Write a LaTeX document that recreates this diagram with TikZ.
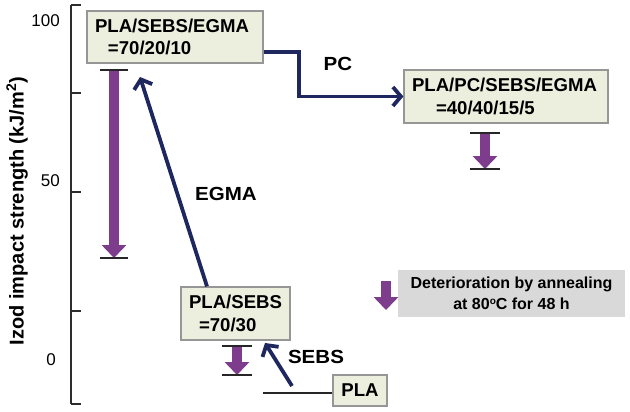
\documentclass[tikz,border=0pt]{standalone}
\usepackage{fontspec}
\setmainfont{Liberation Sans}
\newfontfamily\widesans{Liberation Sans}[FakeStretch=1.08]
\usetikzlibrary{arrows.meta,calc}
\definecolor{navyc}{RGB}{30,40,95}
\definecolor{purp}{RGB}{125,60,140}
\definecolor{boxfill}{RGB}{236,239,222}
\definecolor{boxline}{RGB}{150,150,150}
\definecolor{legfill}{RGB}{217,217,217}
\definecolor{axisc}{RGB}{45,45,45}
\tikzset{
  mixbox/.style={draw=boxline, fill=boxfill, line width=1.2pt, inner xsep=8pt, inner ysep=0pt,
    align=left, font=\fontsize{18.6}{22.5}\selectfont\bfseries},
  lbl/.style={inner sep=0pt, font=\widesans\fontsize{19}{22}\selectfont\bfseries},
  ticklbl/.style={inner sep=0pt, anchor=east, font=\fontsize{17}{20}\selectfont},
  navyarrow/.style={draw=navyc, line width=3.8pt, -{Straight Barb[length=8pt,width=19pt]}},
  deter/.style={draw=purp, line width=10pt, -{Triangle[width=24pt,length=13pt]}},
  barline/.style={draw=black!85, line width=1.3pt},
  axisline/.style={draw=axisc, line width=1.5pt},
}
\begin{document}
\begin{tikzpicture}[x=1pt,y=-1pt]
\useasboundingbox (0,0) rectangle (630,412);

% axis
\coordinate (atop) at (71,5);
\coordinate (abot) at (71,404);
\draw[axisline] (atop) -- (abot);
\foreach \yy in {5,93,192,311,404} {
  \draw[axisline] (71,\yy) -- (81,\yy);
}
\node[ticklbl] (t100) at (60,21) {100};
\node[ticklbl] (t50) at (60,181) {50};
\node[ticklbl] (t0) at (56,360) {0};
\node[rotate=90, inner sep=0pt, font=\fontsize{20}{23}\selectfont\bfseries] (ylab) at (17,211)
  {Izod impact strength (kJ/m\textsuperscript{2})};

% boxes
\node[mixbox, text width=160pt, minimum height=52pt] (box1) at (175,37)
  {PLA/SEBS/EGMA\\\hspace*{13pt}=70/20/10};
\node[mixbox, text width=188pt, minimum height=53pt] (box2) at (506,96.5)
  {PLA/PC/SEBS/EGMA\\\hspace*{24pt}=40/40/15/5};
\node[mixbox, text width=93pt, minimum height=53pt] (box3) at (235.5,313.5)
  {PLA/SEBS\\\hspace*{10pt}=70/30};
\node[mixbox, inner xsep=0pt, minimum width=54pt, minimum height=31pt, align=center] (pla) at (360,390.5) {PLA};

% legend
\node[fill=legfill, inner sep=0pt, minimum width=227pt, minimum height=47pt, align=center,
  font=\fontsize{16}{21}\selectfont\bfseries] (legend) at (511.5,293.5)
  {Deterioration by annealing\\at 80{\fontsize{10}{10}\selectfont\raisebox{5pt}{o}}C for 48 h};

% navy connectors
\draw[navyarrow] ([yshift=-15pt]box1.east) -- ++(35,0) |- (box2.west);
\node[lbl] (pclbl) at (338,63.5) {PC};

\coordinate (egmatip) at (140,77);
\draw[navyarrow] ([xshift=-28.5pt]box3.north) -- (egmatip);
\node[lbl] (egmalbl) at (226,193.5) {EGMA};

\coordinate (sebsstart) at (292,386);
\coordinate (sebstip) at (265,343);
\draw[navyarrow] (sebsstart) -- (sebstip);
\node[lbl] (sebslbl) at (316,356.5) {SEBS};

\coordinate (plabase) at (263,393);
\draw[line width=1.3pt, draw=black!85] (plabase) -- (plabase -| pla.west);

% deterioration arrows
\coordinate (d1t) at (114,70);  \coordinate (d1b) at (114,258);
\coordinate (d2t) at (485,133); \coordinate (d2b) at (485,169);
\coordinate (d3t) at (237,346); \coordinate (d3b) at (237,375);
\coordinate (d4t) at (386,281); \coordinate (d4b) at (386,310);
\draw[deter] (d1t) -- (d1b);
\draw[deter] (d2t) -- (d2b);
\draw[deter] (d3t) -- (d3b);
\draw[deter] (d4t) -- (d4b);
\foreach \c/\w in {d1t/14,d1b/14,d2t/15,d2b/15,d3t/15,d3b/15} {
  \draw[barline] ($(\c)+(-\w,0)$) -- ($(\c)+(\w,0)$);
}
\end{tikzpicture}
\end{document}
